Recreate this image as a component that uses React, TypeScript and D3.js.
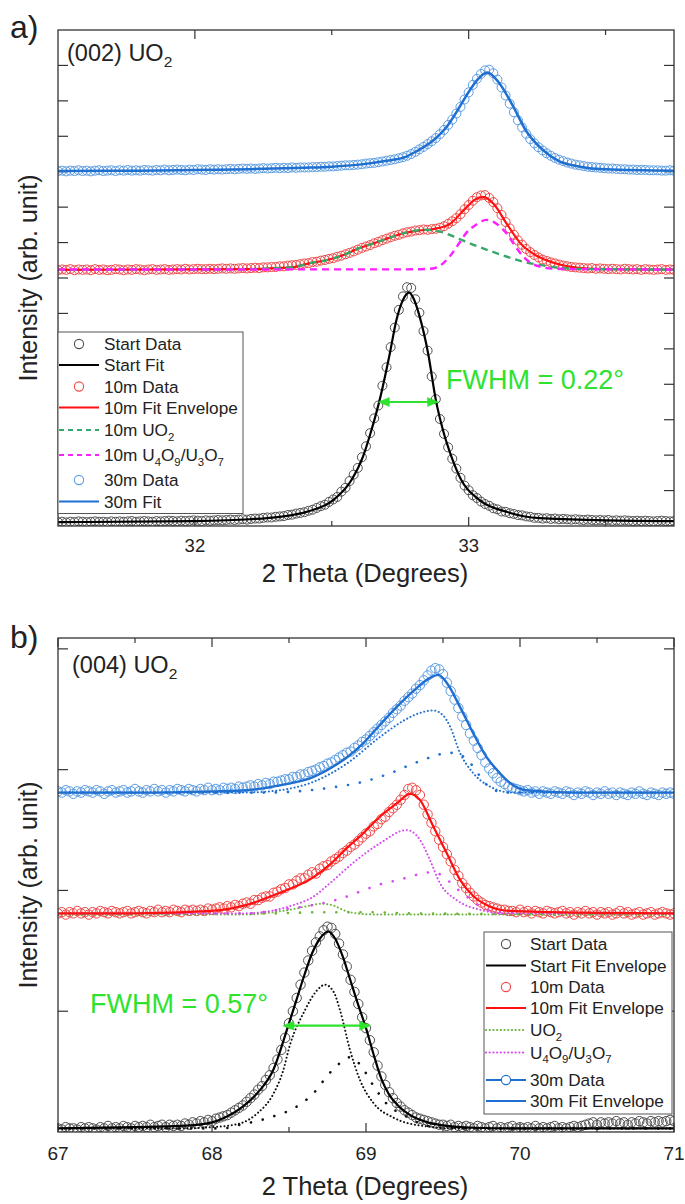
import React from "react";
import * as d3 from "d3";

const FONT = "'Liberation Sans', Arial, Helvetica, sans-serif";

// ---------- colours ----------
const BLACK_PT = "#505050";
const RED_PT = "#f04848";
const BLUE_PT = "#5b9ce2";
const RED_LINE = "#ff1010";
const BLUE_LINE = "#1f6fd1";
const GREEN_DASH = "#36a96a";
const MAGENTA = "#ff1eff";
const GREEN_DOT = "#6cb33a";
const VIOLET_DOT = "#d64cf0";
const FWHM_GREEN = "#2ee22e";

// ---------- panel a: (002) reflection ----------
const STEP_A = 0.015;
const xTicksA = [32, 33];
const xMinorA = [32.5, 33.5];
const yTicksA = [1, 2, 3, 4, 5, 6, 7, 8, 9, 10, 11, 12, 13];

// measured intensities, grouped in runs: [first 2θ, values...]
const startDataA: [number, number[]][] = [
  [31.5, [0.11,0.12,0.10,0.12,0.11,0.13,0.12,0.11,0.12,0.13,0.12,0.12,0.11,0.13,0.12,0.13,0.12,0.13,0.14,0.12,0.13,0.14,0.13,0.12,0.14,0.13,0.14,0.15,0.14,0.13,0.15,0.14,0.15,0.16,0.15,0.14,0.16,0.15,0.16,0.17,0.16,0.17,0.18,0.17,0.18,0.19,0.18]],
  [32.205, [0.20,0.21,0.21,0.23,0.24,0.24,0.26,0.27,0.28,0.31,0.32,0.35,0.37,0.39,0.43,0.46,0.51,0.56,0.60,0.68,0.75,0.82,0.97,1.08,1.27,1.45,1.64,1.94,2.25,2.62,3.04,3.40,3.96,4.48,5.05,5.60,6.10,6.48,6.74,6.72,6.40,6.02,5.50,4.95,4.22,3.58,3.02,2.60,2.22,1.90,1.62,1.36,1.14,1.01,0.87,0.79,0.69,0.62,0.57,0.50,0.47,0.41,0.40,0.36,0.34,0.31,0.30,0.27,0.26,0.23,0.23]],
  [33.27, [0.21,0.22,0.20,0.21,0.19,0.20,0.19,0.18,0.19,0.18,0.17,0.18,0.17,0.16,0.17,0.16,0.17,0.15,0.16,0.15,0.16,0.15,0.14,0.15,0.14,0.15,0.14,0.13,0.14,0.15,0.14,0.13,0.14]],
];
const tenDataA: [number, number[]][] = [
  [31.5, [7.22,7.24,7.23,7.25,7.22,7.24,7.23,7.24,7.22,7.25,7.23,7.24,7.22,7.23,7.25,7.24,7.22,7.24,7.23,7.25,7.24,7.22,7.24,7.25,7.23,7.24,7.25,7.23,7.24,7.25,7.24,7.26,7.24,7.25,7.26,7.25,7.25,7.26,7.25,7.26,7.27,7.26,7.27,7.26,7.27,7.28,7.27,7.28,7.29,7.28,7.30]],
  [32.265, [7.30,7.31,7.31,7.33,7.33,7.35,7.36,7.37,7.39,7.41,7.42,7.45,7.46,7.49,7.51,7.54,7.56,7.60,7.63,7.67,7.71,7.75,7.80,7.85,7.89,7.93,7.98,8.02,8.07,8.11,8.15,8.19,8.22,8.26,8.29,8.31,8.34,8.35,8.37,8.36,8.38,8.39,8.42,8.46,8.53,8.60,8.69,8.80,8.94,9.06,9.18,9.28,9.33,9.34,9.26,9.14,8.97,8.78,8.58,8.40,8.22,8.06,7.94,7.82,7.73,7.65,7.58,7.52,7.48,7.44,7.41,7.38,7.35,7.33,7.31,7.30,7.29,7.28]],
  [33.435, [7.27,7.28,7.26,7.27,7.26,7.25,7.26,7.25,7.24,7.26,7.25,7.24,7.25,7.23,7.25,7.24,7.23,7.24,7.25,7.23,7.24,7.23]],
];
const thirtyDataA: [number, number[]][] = [
  [31.5, [10.02,10.03,10.01,10.03,10.02,10.04,10.02,10.03,10.01,10.03,10.04,10.02,10.03,10.04,10.02,10.04,10.03,10.05,10.03,10.04,10.03,10.05,10.04,10.03,10.05,10.04,10.06,10.04,10.05,10.06,10.05,10.04,10.06,10.05,10.07,10.06,10.05,10.07,10.06,10.07,10.06,10.07,10.08,10.07,10.08,10.09,10.08,10.09,10.08,10.09,10.1,10.09,10.1,10.11,10.1,10.11,10.1,10.12,10.11,10.12,10.12]],
  [32.415, [10.12,10.13,10.13,10.14,10.14,10.15,10.15,10.16,10.17,10.18,10.18,10.19,10.2,10.21,10.23,10.24,10.25,10.27,10.29,10.31,10.33,10.35,10.38,10.41,10.45,10.5,10.56,10.63,10.7,10.78,10.86,10.95,11.06,11.18,11.32,11.47,11.64,11.83,12.04,12.24,12.45,12.62,12.76,12.86,12.88,12.78,12.6,12.38,12.15,11.92,11.68,11.45,11.25,11.07,10.92,10.8,10.69,10.6,10.52,10.45,10.39,10.34,10.3,10.26,10.23,10.2,10.18,10.16]],
  [33.435, [10.14,10.13,10.12,10.11,10.1,10.09,10.09,10.08,10.07,10.07,10.06,10.06,10.05,10.05,10.05,10.04,10.04,10.04,10.03,10.03,10.04,10.03]],
];

// fitted profiles (2θ, intensity)
const startFitAX = [31.5, 32.0, 32.2, 32.31, 32.408, 32.505, 32.572, 32.614, 32.645, 32.675, 32.712, 32.736, 32.76, 32.782, 32.8, 32.821, 32.852, 32.88, 32.906, 32.937, 32.973, 33.04, 33.138, 33.26, 33.5, 33.75];
const startFitAY = [0.11, 0.14, 0.19, 0.26, 0.40, 0.73, 1.30, 1.96, 2.71, 3.56, 4.87, 5.81, 6.38, 6.585, 6.40, 5.91, 4.87, 3.56, 2.71, 1.96, 1.30, 0.73, 0.40, 0.22, 0.16, 0.14];
const tenFitAX = [31.5, 32.2, 32.3, 32.36, 32.42, 32.48, 32.54, 32.6, 32.65, 32.72, 32.77, 32.82, 32.87, 32.93, 32.99, 33.02, 33.055, 33.09, 33.14, 33.19, 33.25, 33.31, 33.4, 33.5, 33.75];
const tenFitAY = [7.23, 7.25, 7.28, 7.31, 7.42, 7.5, 7.64, 7.84, 7.97, 8.16, 8.28, 8.34, 8.38, 8.52, 8.98, 9.2, 9.29, 9.1, 8.52, 7.97, 7.62, 7.43, 7.29, 7.25, 7.24];
const tenUO2AX = [31.5, 32.2, 32.3, 32.36, 32.42, 32.48, 32.54, 32.6, 32.65, 32.72, 32.77, 32.84, 32.9, 32.96, 33.02, 33.08, 33.14, 33.2, 33.26, 33.32, 33.38, 33.45, 33.75];
const tenUO2AY = [7.23, 7.25, 7.28, 7.31, 7.42, 7.5, 7.64, 7.84, 7.97, 8.16, 8.28, 8.36, 8.3, 8.12, 7.93, 7.76, 7.6, 7.46, 7.37, 7.3, 7.26, 7.25, 7.24];
const tenU4O9AX = [31.5, 32.8, 32.87, 32.93, 32.96, 32.99, 33.03, 33.064, 33.1, 33.138, 33.17, 33.2, 33.26, 33.32, 33.4, 33.75];
const tenU4O9AY = [7.24, 7.245, 7.27, 7.6, 7.92, 8.26, 8.52, 8.64, 8.54, 8.26, 7.9, 7.6, 7.32, 7.26, 7.25, 7.24];
const thirtyFitAX = [31.5, 31.8, 32.0, 32.2, 32.4, 32.5, 32.6, 32.7, 32.77, 32.81, 32.87, 32.92, 32.96, 33.0, 33.03, 33.068, 33.11, 33.16, 33.21, 33.27, 33.33, 33.38, 33.44, 33.5, 33.75];
const thirtyFitAY = [10.02, 10.03, 10.05, 10.07, 10.11, 10.14, 10.2, 10.31, 10.42, 10.58, 10.88, 11.27, 11.74, 12.25, 12.58, 12.8, 12.52, 11.88, 11.15, 10.62, 10.3, 10.18, 10.1, 10.07, 10.03];

// ---------- panel b: (004) reflection ----------
const STEP_B = 0.025;
const xTicksB = [67, 68, 69, 70, 71];
const xMinorB = [67.5, 68.5, 69.5, 70.5];
const yTicksB = [1, 2, 3, 4];

const startDataB: [number, number[]][] = [
  [67.0, [0.03,0.02,0.04,0.03,0.03,0.02,0.04,0.03,0.04,0.03,0.02,0.04,0.03,0.05,0.03,0.04,0.03,0.05,0.04,0.03,0.05,0.04,0.05,0.04,0.06,0.04,0.05,0.06,0.04,0.06,0.05]],
  [67.775, [0.06,0.05,0.07,0.06,0.08,0.07,0.09,0.08,0.1,0.09,0.11,0.12,0.13,0.14,0.16,0.18,0.2,0.22,0.25,0.28,0.31,0.35,0.38,0.43,0.47,0.53,0.6,0.68,0.78,0.9,1.0,1.11,1.22,1.32,1.42,1.5,1.57,1.62,1.67,1.7,1.69,1.64,1.56,1.47,1.37,1.26,1.16,1.06,0.95,0.86,0.76,0.66,0.55,0.46,0.39,0.33,0.28,0.24,0.21,0.18,0.16,0.14,0.12,0.11,0.1,0.09,0.08,0.07,0.06,0.06]],
  [69.525, [0.05,0.06,0.04,0.05,0.04,0.05,0.04,0.03,0.05,0.04,0.03,0.04,0.05,0.03,0.04,0.03,0.04,0.05,0.03,0.04,0.03,0.04,0.03,0.05,0.03,0.04,0.03,0.04,0.05,0.03,0.04,0.03,0.04,0.05,0.04,0.05,0.06]],
  [70.45, [0.07,0.08,0.06,0.08,0.07,0.08,0.07,0.09,0.07,0.08,0.06,0.08,0.07,0.09,0.08,0.07,0.09,0.08,0.09,0.08,0.09,0.1,0.09]],
];
const tenDataB: [number, number[]][] = [
  [67.0, [1.81,1.82,1.8,1.82,1.81,1.83,1.81,1.82,1.8,1.82,1.81,1.83,1.82,1.81,1.83,1.82,1.81,1.82,1.83,1.81,1.82,1.83,1.82,1.81,1.83,1.82,1.84,1.82,1.83,1.82,1.84,1.83,1.82,1.84,1.83,1.84,1.83]],
  [67.925, [1.84,1.83,1.85,1.84,1.85,1.86,1.85,1.87,1.86,1.88,1.87,1.89,1.9,1.89,1.92,1.92,1.94,1.95,1.95,1.98,1.99,2.01,2.02,2.05,2.05,2.08,2.1,2.1,2.13,2.15,2.14,2.18,2.2,2.21,2.24,2.26,2.28,2.31,2.33,2.36,2.38,2.41,2.44,2.47,2.49,2.53,2.55,2.59,2.61,2.65,2.68,2.71,2.75,2.79,2.84,2.85,2.83,2.79,2.71,2.63,2.56,2.49,2.42,2.36,2.3,2.24,2.17,2.12,2.06,2.02,1.98,1.95,1.92,1.9,1.88,1.87,1.86,1.85,1.84,1.84,1.83]],
  [69.95, [1.83,1.82,1.84,1.82,1.83,1.81,1.83,1.82,1.81,1.83,1.82,1.81,1.82,1.83,1.81,1.82,1.8,1.82,1.81,1.83,1.81,1.82,1.8,1.82,1.81,1.82,1.8,1.81,1.83,1.81,1.82,1.8,1.81,1.82,1.8,1.81,1.82,1.8,1.81,1.82,1.81,1.8,1.81]],
];
const thirtyDataB: [number, number[]][] = [
  [67.0, [2.82,2.81,2.83,2.82,2.8,2.82,2.81,2.83,2.82,2.81,2.83,2.82,2.8,2.82,2.83,2.81,2.82,2.83,2.81,2.82,2.84,2.82,2.81,2.83,2.82,2.84,2.82,2.83,2.81,2.83,2.82,2.84,2.83,2.82,2.84,2.83,2.82,2.84,2.83,2.85,2.83]],
  [68.025, [2.84,2.83,2.85,2.84,2.85,2.84,2.86,2.85,2.86,2.87,2.86,2.88,2.87,2.89,2.88,2.9,2.9,2.91,2.92,2.92,2.94,2.94,2.96,2.96,2.98,2.99,3.0,3.02,3.03,3.05,3.06,3.08,3.1,3.12,3.14,3.15,3.18,3.2,3.23,3.25,3.28,3.31,3.34,3.37,3.4,3.43,3.47,3.5,3.53,3.57,3.6,3.63,3.67,3.7,3.74,3.78,3.82,3.84,3.83,3.79,3.72,3.65,3.58,3.51,3.44,3.37,3.3,3.24,3.18,3.12,3.06,3.01,2.97,2.93,2.9,2.88,2.86,2.85,2.84]],
  [70.0, [2.83,2.82,2.83,2.81,2.82,2.8,2.82,2.81,2.8,2.82,2.81,2.8,2.82,2.81,2.79,2.81,2.8,2.82,2.81,2.79,2.81,2.8,2.82,2.8,2.81,2.79,2.81,2.8,2.79,2.81,2.8,2.82,2.8,2.79,2.81,2.8,2.79,2.81,2.8,2.81,2.8]],
];

const startFitBX = [67, 67.5, 67.8, 68.0, 68.1, 68.2, 68.3, 68.4, 68.49, 68.55, 68.6, 68.65, 68.7, 68.755, 68.8, 68.85, 68.9, 68.95, 69.0, 69.05, 69.1, 69.15, 69.2, 69.3, 69.4, 69.5, 69.7, 70, 71];
const startFitBY = [0.03, 0.04, 0.05, 0.08, 0.13, 0.21, 0.33, 0.52, 0.86, 1.1, 1.3, 1.48, 1.6, 1.66, 1.6, 1.45, 1.25, 1.05, 0.86, 0.64, 0.44, 0.31, 0.23, 0.13, 0.08, 0.055, 0.035, 0.03, 0.03];
const startPk1BX = [67, 67.8, 68.0, 68.18, 68.29, 68.4, 68.46, 68.506, 68.6, 68.68, 68.734, 68.79, 68.831, 68.896, 68.961, 69.048, 69.177, 69.37, 69.6, 71];
const startPk1BY = [0.03, 0.03, 0.04, 0.07, 0.15, 0.32, 0.5, 0.72, 1.0, 1.17, 1.22, 1.16, 1.01, 0.68, 0.43, 0.24, 0.12, 0.05, 0.03, 0.03];
const startPk2BX = [67, 67.8, 68.07, 68.18, 68.29, 68.4, 68.55, 68.68, 68.745, 68.83, 68.9, 68.96, 69.05, 69.13, 69.26, 69.4, 69.6, 71];
const startPk2BY = [0.03, 0.03, 0.03, 0.06, 0.09, 0.13, 0.21, 0.35, 0.46, 0.57, 0.62, 0.56, 0.38, 0.24, 0.13, 0.05, 0.03, 0.03];

const tenFitBX = [67, 67.5, 68.0, 68.225, 68.44, 68.66, 68.77, 68.875, 68.98, 69.09, 69.2, 69.286, 69.35, 69.437, 69.524, 69.61, 69.7, 69.8, 69.935, 70.2, 71];
const tenFitBY = [1.81, 1.81, 1.83, 1.88, 1.98, 2.11, 2.22, 2.35, 2.47, 2.61, 2.72, 2.8, 2.75, 2.53, 2.31, 2.09, 1.95, 1.87, 1.83, 1.82, 1.81];
const tenUO2BX = [67, 68.2, 68.4, 68.506, 68.62, 68.71, 68.8, 68.83, 68.94, 69.1, 71];
const tenUO2BY = [1.8, 1.8, 1.82, 1.84, 1.87, 1.89, 1.87, 1.85, 1.81, 1.8, 1.8];
const tenUO2bBX = [67, 68.4, 68.7, 69.0, 69.3, 71];
const tenUO2bBY = [1.8, 1.81, 1.82, 1.82, 1.81, 1.8];
const tenU4O9BX = [67, 68.2, 68.33, 68.506, 68.66, 68.766, 68.918, 69.09, 69.264, 69.35, 69.416, 69.48, 69.589, 69.74, 69.9, 71];
const tenU4O9BY = [1.81, 1.81, 1.82, 1.87, 1.95, 2.06, 2.23, 2.39, 2.5, 2.42, 2.25, 2.06, 1.92, 1.84, 1.81, 1.81];
const tenU4O9bBX = [67, 68.0, 68.225, 68.44, 68.66, 68.83, 68.96, 69.09, 69.22, 69.33, 69.42, 69.5, 69.567, 69.654, 69.74, 69.85, 71];
const tenU4O9bBY = [1.81, 1.81, 1.81, 1.84, 1.88, 1.93, 1.99, 2.05, 2.09, 2.13, 2.15, 2.12, 2.04, 1.95, 1.87, 1.82, 1.81];

const thirtyFitBX = [67, 67.5, 68.0, 68.225, 68.44, 68.66, 68.766, 68.875, 68.983, 69.09, 69.2, 69.307, 69.416, 69.47, 69.524, 69.61, 69.697, 69.78, 69.87, 69.935, 70.04, 70.35, 71];
const thirtyFitBY = [2.81, 2.81, 2.82, 2.83, 2.87, 2.94, 3.01, 3.1, 3.22, 3.37, 3.52, 3.65, 3.76, 3.785, 3.72, 3.52, 3.3, 3.11, 2.97, 2.89, 2.83, 2.81, 2.81];
const thirtyPk1BX = [67, 68.2, 68.44, 68.66, 68.875, 69.09, 69.25, 69.35, 69.437, 69.5, 69.545, 69.61, 69.697, 69.805, 69.95, 71];
const thirtyPk1BY = [2.81, 2.81, 2.83, 2.9, 3.05, 3.27, 3.41, 3.47, 3.49, 3.45, 3.36, 3.14, 2.97, 2.86, 2.81, 2.81];
const thirtyPk2BX = [67, 68.3, 68.55, 68.766, 68.983, 69.156, 69.307, 69.437, 69.53, 69.6, 69.68, 69.78, 69.9, 71];
const thirtyPk2BY = [2.81, 2.81, 2.82, 2.85, 2.9, 2.97, 3.05, 3.11, 3.14, 3.13, 3.05, 2.88, 2.81, 2.81];

// FWHM annotations: centre (2θ), height, width in degrees
const fwhmA = { center: 32.78, level: 3.5, width: 0.22 };
const fwhmB = { center: 68.745, level: 0.88, width: 0.57 };

// ---------- helpers ----------
type Scale = d3.ScaleLinear<number, number>;

function runsToPoints(runs: [number, number[]][], step: number): [number, number][] {
  const pts: [number, number][] = [];
  runs.forEach(([x0, ys]) => ys.forEach((y, i) => pts.push([x0 + i * step, y])));
  return pts;
}

function curvePath(xs: number[], ys: number[], sx: Scale, sy: Scale): string {
  const gen = d3
    .line<number>()
    .x((d) => sx(d))
    .y((_, i) => sy(ys[i]))
    .curve(d3.curveMonotoneX);
  return gen(xs) || "";
}

// text with chemical subscripts: plain strings stay on the baseline, {s} parts drop down
type Part = string | { s: string };
function Chem({ parts, shift = 5 }: { parts: Part[]; shift?: number }) {
  let low = false;
  return (
    <>
      {parts.map((p, i) => {
        if (typeof p === "string") {
          const dy = low ? -shift : 0;
          low = false;
          return <tspan key={i} dy={dy}>{p}</tspan>;
        }
        const dy = low ? 0 : shift;
        low = true;
        return <tspan key={i} dy={dy} fontSize="0.66em">{p.s}</tspan>;
      })}
    </>
  );
}

type LineSpec = { xs: number[]; ys: number[]; color: string; width: number; dash?: string; cap?: "round" | "butt" };
type DotSpec = { runs: [number, number[]][]; step: number; color: string; r: number };
type Layer = { dots?: DotSpec; lines: LineSpec[] };

type LegendRow = { kind: "circle" | "line" | "linecircle"; color: string; dash?: string; cap?: "round" | "butt"; label: Part[]; baseline: number };

function Legend({ box, symX0, symX1, textX, rows }: { box: [number, number, number, number]; symX0: number; symX1: number; textX: number; rows: LegendRow[] }) {
  const [x0, y0, x1, y1] = box;
  const cx = (symX0 + symX1) / 2;
  return (
    <g>
      <rect x={x0} y={y0} width={x1 - x0} height={y1 - y0} fill="#fff" stroke="#555" strokeWidth={1} />
      {rows.map((r, i) => {
        const sy = r.baseline - 6;
        return (
          <g key={i}>
            {(r.kind === "line" || r.kind === "linecircle") && (
              <line x1={symX0} x2={symX1} y1={sy} y2={sy} stroke={r.color} strokeWidth={2.2} strokeDasharray={r.dash} strokeLinecap={r.cap || "butt"} />
            )}
            {(r.kind === "circle" || r.kind === "linecircle") && (
              <circle cx={cx} cy={sy} r={4.6} fill="#fff" stroke={r.color} strokeWidth={1.1} />
            )}
            <text x={textX} y={r.baseline} fontSize={17.2} fill="#222" fontFamily={FONT}>
              <Chem parts={r.label} shift={4.5} />
            </text>
          </g>
        );
      })}
    </g>
  );
}

type PanelProps = {
  id: string;
  xDomain: [number, number];
  yDomain: [number, number];
  left: number; right: number; top: number; bottom: number;
  xTicks: number[]; xMinor: number[]; yTicks: number[];
  tickLabelY: number; tickFont: number;
  layers: Layer[];
  fwhm: { center: number; level: number; width: number };
};

function Panel(p: PanelProps) {
  const sx = d3.scaleLinear().domain(p.xDomain).range([p.left, p.right]);
  const sy = d3.scaleLinear().domain(p.yDomain).range([p.bottom, p.top]);
  const clipId = `clip-${p.id}`;
  const arrowY = sy(p.fwhm.level);
  const ax0 = sx(p.fwhm.center - p.fwhm.width / 2);
  const ax1 = sx(p.fwhm.center + p.fwhm.width / 2);
  const head = 11;
  const hw = 4.5;
  return (
    <g>
      <defs>
        <clipPath id={clipId}>
          <rect x={p.left} y={p.top} width={p.right - p.left} height={p.bottom - p.top} />
        </clipPath>
      </defs>
      {/* ticks, all pointing into the frame */}
      <g stroke="#333" strokeWidth={1.2}>
        {p.yTicks.map((t) => (
          <g key={`y${t}`}>
            <line x1={p.left} x2={p.left + 10} y1={sy(t)} y2={sy(t)} />
            <line x1={p.right} x2={p.right - 10} y1={sy(t)} y2={sy(t)} />
          </g>
        ))}
        {p.xTicks.map((t) => (
          <g key={`x${t}`}>
            <line x1={sx(t)} x2={sx(t)} y1={p.bottom} y2={p.bottom - 9} />
            <line x1={sx(t)} x2={sx(t)} y1={p.top} y2={p.top + 9} />
          </g>
        ))}
        {p.xMinor.map((t) => (
          <g key={`m${t}`}>
            <line x1={sx(t)} x2={sx(t)} y1={p.bottom} y2={p.bottom - 5} />
            <line x1={sx(t)} x2={sx(t)} y1={p.top} y2={p.top + 5} />
          </g>
        ))}
      </g>
      <g clipPath={`url(#${clipId})`}>
        {p.layers.map((layer, li) => (
          <g key={li}>
            {layer.dots &&
              runsToPoints(layer.dots.runs, layer.dots.step).map(([x, y], i) => (
                <circle key={i} cx={sx(x)} cy={sy(y)} r={layer.dots!.r} fill="none" stroke={layer.dots!.color} strokeWidth={1} />
              ))}
            {layer.lines.map((l, k) => (
              <path key={k} d={curvePath(l.xs, l.ys, sx, sy)} fill="none" stroke={l.color} strokeWidth={l.width} strokeDasharray={l.dash} strokeLinecap={l.cap || "butt"} />
            ))}
          </g>
        ))}
      </g>
      {/* FWHM arrow */}
      <g stroke={FWHM_GREEN} fill={FWHM_GREEN}>
        <line x1={ax0 + head - 1} x2={ax1 - head + 1} y1={arrowY} y2={arrowY} strokeWidth={2.2} />
        <path d={`M${ax0},${arrowY} L${ax0 + head},${arrowY - hw} L${ax0 + head},${arrowY + hw} Z`} strokeWidth={0.5} />
        <path d={`M${ax1},${arrowY} L${ax1 - head},${arrowY - hw} L${ax1 - head},${arrowY + hw} Z`} strokeWidth={0.5} />
      </g>
      <rect x={p.left} y={p.top} width={p.right - p.left} height={p.bottom - p.top} fill="none" stroke="#333" strokeWidth={1.3} />
      <g fontFamily={FONT} fontSize={p.tickFont} fill="#222" textAnchor="middle">
        {p.xTicks.map((t) => (
          <text key={t} x={sx(t)} y={p.tickLabelY}>{t}</text>
        ))}
      </g>
    </g>
  );
}

const U4O9: Part[] = ["U", { s: "4" }, "O", { s: "9" }, "/U", { s: "3" }, "O", { s: "7" }];

export default function App() {
  const layersA: Layer[] = [
    {
      dots: { runs: startDataA, step: STEP_A, color: BLACK_PT, r: 4.5 },
      lines: [{ xs: startFitAX, ys: startFitAY, color: "#000", width: 2.2 }],
    },
    {
      dots: { runs: tenDataA, step: STEP_A, color: RED_PT, r: 4.5 },
      lines: [
        { xs: tenFitAX, ys: tenFitAY, color: RED_LINE, width: 2.2 },
        { xs: tenUO2AX, ys: tenUO2AY, color: GREEN_DASH, width: 2.4, dash: "7,5" },
        { xs: tenU4O9AX, ys: tenU4O9AY, color: MAGENTA, width: 2.4, dash: "7,5" },
      ],
    },
    {
      dots: { runs: thirtyDataA, step: STEP_A, color: BLUE_PT, r: 4.5 },
      lines: [{ xs: thirtyFitAX, ys: thirtyFitAY, color: BLUE_LINE, width: 2.5 }],
    },
  ];

  const layersB: Layer[] = [
    {
      dots: { runs: startDataB, step: STEP_B, color: BLACK_PT, r: 4.7 },
      lines: [
        { xs: startPk1BX, ys: startPk1BY, color: "#111", width: 2, dash: "0.1,3.6", cap: "round" },
        { xs: startPk2BX, ys: startPk2BY, color: "#111", width: 2.6, dash: "0.1,12", cap: "round" },
        { xs: startFitBX, ys: startFitBY, color: "#000", width: 2.2 },
      ],
    },
    {
      dots: { runs: tenDataB, step: STEP_B, color: RED_PT, r: 4.7 },
      lines: [
        { xs: tenUO2bBX, ys: tenUO2bBY, color: GREEN_DOT, width: 2.6, dash: "0.1,12", cap: "round" },
        { xs: tenUO2BX, ys: tenUO2BY, color: GREEN_DOT, width: 2, dash: "0.1,3.6", cap: "round" },
        { xs: tenU4O9BX, ys: tenU4O9BY, color: VIOLET_DOT, width: 2, dash: "0.1,3.6", cap: "round" },
        { xs: tenU4O9bBX, ys: tenU4O9bBY, color: VIOLET_DOT, width: 2.6, dash: "0.1,12", cap: "round" },
        { xs: tenFitBX, ys: tenFitBY, color: RED_LINE, width: 2.2 },
      ],
    },
    {
      dots: { runs: thirtyDataB, step: STEP_B, color: BLUE_PT, r: 4.7 },
      lines: [
        { xs: thirtyPk1BX, ys: thirtyPk1BY, color: BLUE_LINE, width: 2, dash: "0.1,3.6", cap: "round" },
        { xs: thirtyPk2BX, ys: thirtyPk2BY, color: BLUE_LINE, width: 2.6, dash: "0.1,12", cap: "round" },
        { xs: thirtyFitBX, ys: thirtyFitBY, color: BLUE_LINE, width: 2.4 },
      ],
    },
  ];

  const legendA: LegendRow[] = [
    { kind: "circle", color: BLACK_PT, label: ["Start Data"], baseline: 350 },
    { kind: "line", color: "#000", label: ["Start Fit"], baseline: 371 },
    { kind: "circle", color: RED_PT, label: ["10m Data"], baseline: 392.5 },
    { kind: "line", color: RED_LINE, label: ["10m Fit Envelope"], baseline: 413.5 },
    { kind: "line", color: GREEN_DASH, dash: "5,4", label: ["10m UO", { s: "2" }], baseline: 436 },
    { kind: "line", color: MAGENTA, dash: "5,4", label: ["10m ", ...U4O9], baseline: 461 },
    { kind: "circle", color: BLUE_PT, label: ["30m Data"], baseline: 486 },
    { kind: "line", color: BLUE_LINE, label: ["30m Fit"], baseline: 507.5 },
  ];

  const legendB: LegendRow[] = [
    { kind: "circle", color: BLACK_PT, label: ["Start Data"], baseline: 950 },
    { kind: "line", color: "#000", label: ["Start Fit Envelope"], baseline: 971.5 },
    { kind: "circle", color: RED_PT, label: ["10m Data"], baseline: 993 },
    { kind: "line", color: RED_LINE, label: ["10m Fit Envelope"], baseline: 1014 },
    { kind: "line", color: GREEN_DOT, dash: "0.1,3.6", cap: "round", label: ["UO", { s: "2" }], baseline: 1036 },
    { kind: "line", color: VIOLET_DOT, dash: "0.1,3.6", cap: "round", label: U4O9, baseline: 1058.5 },
    { kind: "linecircle", color: BLUE_LINE, label: ["30m Data"], baseline: 1086 },
    { kind: "line", color: BLUE_LINE, label: ["30m Fit Envelope"], baseline: 1107 },
  ];

  return (
    <div style={{ position: "absolute", left: 0, top: 0 }}>
      <svg width={685} height={1204} viewBox="0 0 685 1204" style={{ display: "block", background: "#fff" }}>
        <rect x={0} y={0} width={685} height={1204} fill="#fff" />

        {/* ---- panel a ---- */}
        <text x={10} y={38} fontSize={32} fontFamily={FONT} fill="#222">a)</text>
        <Panel
          id="a"
          xDomain={[31.5, 33.75]}
          yDomain={[0, 14]}
          left={58} right={674} top={30} bottom={526}
          xTicks={xTicksA} xMinor={xMinorA} yTicks={yTicksA}
          tickLabelY={552} tickFont={18.5}
          layers={layersA}
          fwhm={fwhmA}
        />
        <text x={67} y={61} fontSize={23.5} fontFamily={FONT} fill="#222">
          <Chem parts={["(002) UO", { s: "2" }]} shift={6} />
        </text>
        <text x={446} y={389} fontSize={27} fontFamily={FONT} fill={FWHM_GREEN}>FWHM = {fwhmA.width.toFixed(2)}°</text>
        <Legend box={[58, 332, 243, 513.5]} symX0={59} symX1={99} textX={104} rows={legendA} />
        <text x={365} y={582} fontSize={25.5} fontFamily={FONT} fill="#222" textAnchor="middle">2 Theta (Degrees)</text>
        <text transform="translate(37,278) rotate(-90)" fontSize={25} fontFamily={FONT} fill="#222" textAnchor="middle">Intensity (arb. unit)</text>

        {/* ---- panel b ---- */}
        <text x={10} y={648} fontSize={32} fontFamily={FONT} fill="#222">b)</text>
        <Panel
          id="b"
          xDomain={[67, 71]}
          yDomain={[0, 4.09]}
          left={58} right={674} top={638} bottom={1132}
          xTicks={xTicksB} xMinor={xMinorB} yTicks={yTicksB}
          tickLabelY={1160} tickFont={19}
          layers={layersB}
          fwhm={fwhmB}
        />
        <text x={72} y={673} fontSize={23.5} fontFamily={FONT} fill="#222">
          <Chem parts={["(004) UO", { s: "2" }]} shift={6} />
        </text>
        <text x={90} y={1013} fontSize={27} fontFamily={FONT} fill={FWHM_GREEN}>FWHM = {fwhmB.width.toFixed(2)}°</text>
        <Legend box={[484, 932, 672, 1114]} symX0={486} symX1={526} textX={530} rows={legendB} />
        <text x={365} y={1195} fontSize={25.5} fontFamily={FONT} fill="#222" textAnchor="middle">2 Theta (Degrees)</text>
        <text transform="translate(37,885) rotate(-90)" fontSize={25} fontFamily={FONT} fill="#222" textAnchor="middle">Intensity (arb. unit)</text>
      </svg>
    </div>
  );
}
